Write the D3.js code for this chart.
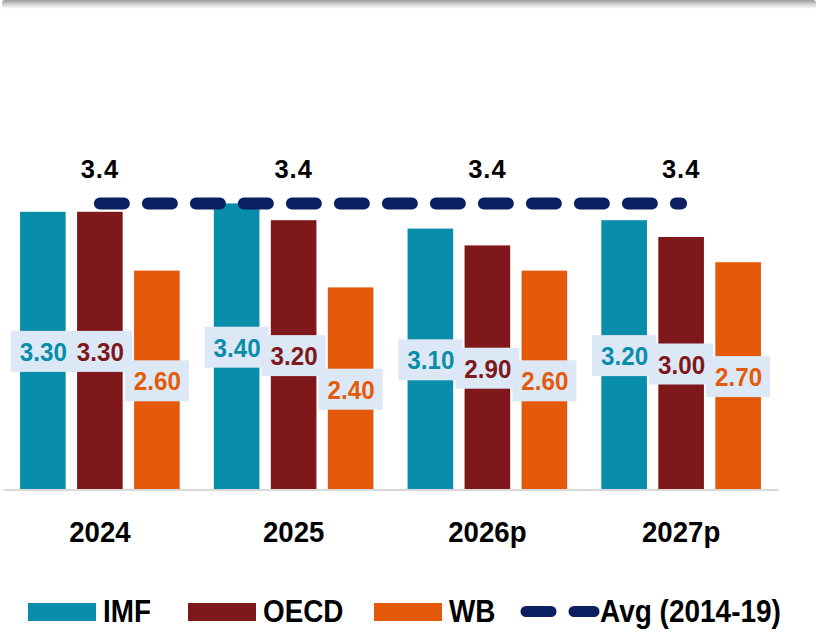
<!DOCTYPE html>
<html>
<head>
<meta charset="utf-8">
<script src="https://cdn.jsdelivr.net/npm/d3@7"></script>
<style>
    html, body { margin: 0; padding: 0; background: #fff; }
    svg text { font-family: "Liberation Sans", Arial, sans-serif; font-weight: bold; }
</style>
</head>
<body>
<svg id="svg"></svg>
<script>
// chart values
const years = ["2024", "2025", "2026p", "2027p"];
const seriesNames = ["IMF", "OECD", "WB"];
const imf = [3.3, 3.4, 3.1, 3.2];
const oecd = [3.3, 3.2, 2.9, 3.0];
const wb = [2.6, 2.4, 2.6, 2.7];
const avg = [3.4, 3.4, 3.4, 3.4];
const avgName = "Avg (2014-19)";

const colorMap = {
    IMF: "#088DAA",
    OECD: "#7E181A",
    WB: "#E5590A",
};
const avgColor = "#0B2060";
const labelBg = "#DCE8F5";

const seriesValues = { IMF: imf, OECD: oecd, WB: wb };

const svg = d3.select("#svg")
    .attr("width", 820)
    .attr("height", 636);

// soft shadow along the top edge
const defs = svg.append("defs");
const grad = defs.append("linearGradient")
    .attr("id", "topShade")
    .attr("x1", 0).attr("y1", 0).attr("x2", 0).attr("y2", 1);
grad.append("stop").attr("offset", "0%").attr("stop-color", "#9a9a9a");
grad.append("stop").attr("offset", "45%").attr("stop-color", "#d0d0d0");
grad.append("stop").attr("offset", "100%").attr("stop-color", "#ffffff");
svg.append("rect")
    .attr("x", 2).attr("y", 0)
    .attr("width", 814).attr("height", 9)
    .attr("rx", 3)
    .attr("fill", "url(#topShade)");

const x = d3.scaleBand()
    .domain(years)
    .range([3, 778]);

const xs = d3.scaleBand()
    .domain(seriesNames)
    .range([-85.5, 85.5])
    .paddingInner(0.2)
    .paddingOuter(0.1);

const y = d3.scaleLinear()
    .domain([0, 4])
    .range([489, 153]);

const center = year => x(year) + x.bandwidth() / 2;

// flatten into bar records
const bars = [];
seriesNames.forEach(name => {
    years.forEach((year, i) => {
        bars.push({ name: name, year: year, value: seriesValues[name][i] });
    });
});

svg.append("g")
    .selectAll("rect")
    .data(bars)
    .join("rect")
    .attr("x", d => center(d.year) + xs(d.name))
    .attr("y", d => y(d.value))
    .attr("width", xs.bandwidth())
    .attr("height", d => y(0) - y(d.value))
    .attr("fill", d => colorMap[d.name]);

// x axis
const xAxis = svg.append("g")
    .attr("transform", `translate(0,${y(0) + 0.5})`)
    .call(d3.axisBottom(x).tickSize(0).tickSizeOuter(0));
xAxis.select(".domain")
    .attr("stroke", "#d9d9d9")
    .attr("stroke-width", 2);
xAxis.selectAll(".tick text")
    .attr("y", 0)
    .attr("dy", 0)
    .attr("transform", "translate(0,52) scale(0.92,1)")
    .attr("fill", "#000")
    .style("font-size", "30px")
    .style("font-family", null);

// dashed average line
const avgLine = d3.line()
    .x((d, i) => center(years[i]))
    .y(d => y(d));

svg.append("path")
    .datum(avg)
    .attr("d", avgLine)
    .attr("fill", "none")
    .attr("stroke", avgColor)
    .attr("stroke-width", 12)
    .attr("stroke-linecap", "round")
    .attr("stroke-dasharray", "24 24");

svg.append("g")
    .selectAll("text")
    .data(avg)
    .join("text")
    .attr("transform", (d, i) => `translate(${center(years[i])},${y(d) - 25}) scale(0.98,1)`)
    .attr("text-anchor", "middle")
    .attr("fill", "#000")
    .style("font-size", "26px")
    .style("letter-spacing", "1px")
    .text(d => d.toFixed(1));

// value labels, one boxed label per bar, centred on the bar
const labels = svg.append("g")
    .selectAll("g")
    .data(bars)
    .join("g")
    .attr("transform", d => `translate(${center(d.year) + xs(d.name) + xs.bandwidth() / 2},${(y(d.value) + y(0)) / 2 + 1})`);

labels.append("rect")
    .attr("x", -32)
    .attr("y", -20.5)
    .attr("width", 64)
    .attr("height", 41)
    .attr("fill", labelBg);

labels.append("text")
    .attr("transform", "translate(0.5,9.5) scale(0.93,1)")
    .attr("text-anchor", "middle")
    .attr("fill", d => colorMap[d.name])
    .style("font-size", "26px")
    .text(d => d.value.toFixed(2));

// legend
const legend = svg.append("g");
const legendX = [28, 188, 374];

seriesNames.forEach((name, i) => {
    legend.append("rect")
        .attr("x", legendX[i])
        .attr("y", 603)
        .attr("width", 68)
        .attr("height", 18)
        .attr("fill", colorMap[name]);
    legend.append("text")
        .attr("transform", `translate(${legendX[i] + 75},622) scale(0.87,1)`)
        .attr("fill", "#000")
        .style("font-size", "32px")
        .text(name);
});

legend.append("line")
    .attr("x1", 526).attr("x2", 594)
    .attr("y1", 611.5).attr("y2", 611.5)
    .attr("stroke", avgColor)
    .attr("stroke-width", 11)
    .attr("stroke-linecap", "round")
    .attr("stroke-dasharray", "25 23");

legend.append("text")
    .attr("transform", "translate(600,622) scale(0.875,1)")
    .attr("fill", "#000")
    .style("font-size", "32px")
    .text(avgName);
</script>
</body>
</html>
